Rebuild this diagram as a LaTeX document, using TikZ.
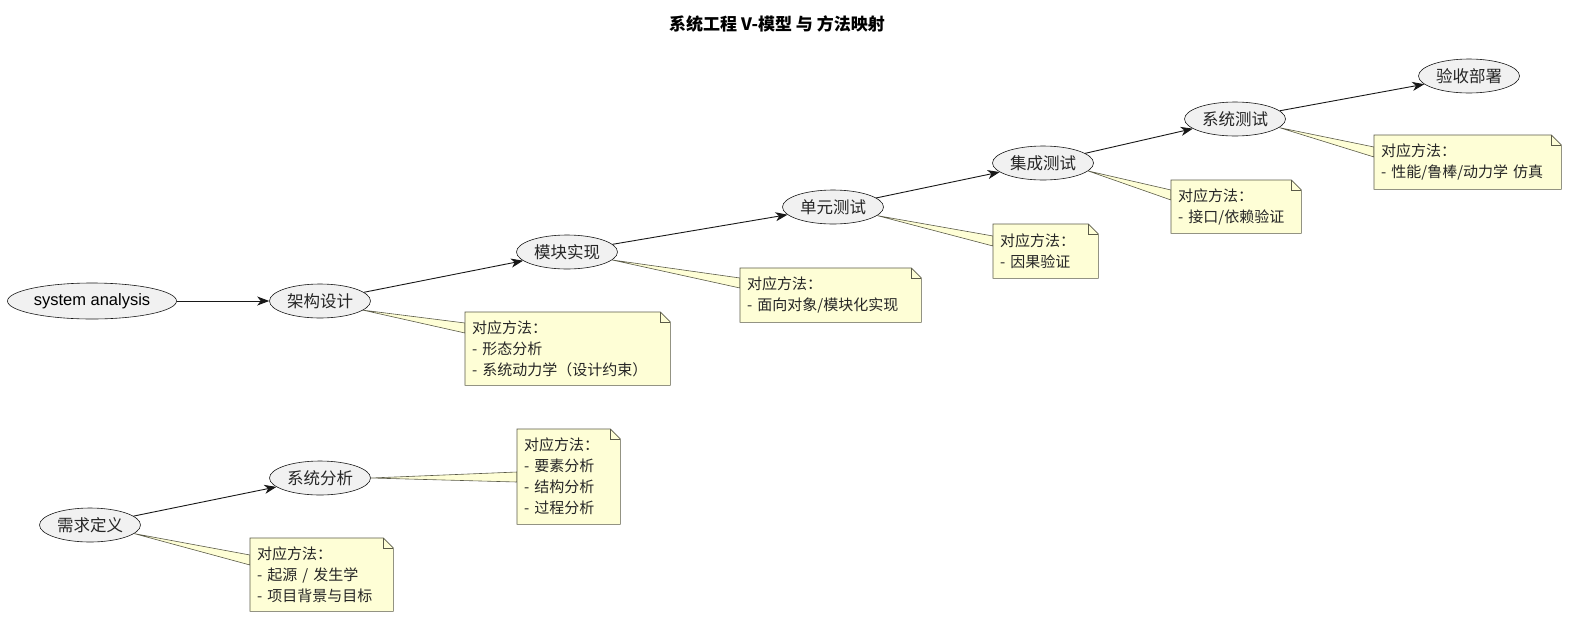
\documentclass[tikz,border=0pt]{standalone}
\usepackage{fontspec}
\setmainfont{Liberation Sans}
\newfontfamily\cjk{Noto Sans CJK SC}
\usetikzlibrary{shapes.geometric,arrows.meta,backgrounds}
\definecolor{nodefill}{HTML}{F1F1F1}
\definecolor{notefill}{HTML}{FEFED6}
\definecolor{lineclr}{HTML}{181818}
\definecolor{noteedge}{HTML}{5A5A48}
\newcommand\noteshape[1]{%
  \filldraw[noteshp] (#1.north west) -- ([xshift=-10pt]#1.north east) -- ([yshift=-10pt]#1.north east) -- (#1.south east) -- (#1.south west) -- cycle;
  \draw[noteshp,fill=none] ([xshift=-10pt]#1.north east) -- ([xshift=-10pt,yshift=-10pt]#1.north east) -- ([yshift=-10pt]#1.north east);}
\newcommand\notelink[4]{%
  \filldraw[noteshp] (#1) -- ([yshift=-#3pt]#2.north west) -- ([yshift=-#4pt]#2.north west) -- cycle;}
\begin{document}
\begin{tikzpicture}[x=1pt,y=-1pt,
  stage/.style={ellipse, draw=lineclr, line width=0.6pt, fill=nodefill, minimum width=101pt, minimum height=34pt, inner sep=0pt, font=\cjk\fontsize{16.5}{20}\selectfont, text=black!85},
  notetext/.style={inner xsep=7pt, inner ysep=0pt, align=left, anchor=north west, font=\cjk\fontsize{15}{21}\selectfont, text=black!85},
  noteshp/.style={fill=notefill, draw=noteedge, line width=0.6pt},
  flow/.style={-{Stealth[length=12pt,width=9pt,inset=3.5pt]}, line width=0.9pt, draw=lineclr}]
\useasboundingbox (0,0) rectangle (1571,619);

\node[font=\cjk\bfseries\fontsize{17}{20}\selectfont] (title) at (777,24) {系统工程 V-模型 与 方法映射};

\node[stage, minimum width=169pt, minimum height=36pt, font=\fontsize{16.5}{20}\selectfont, text=black] (sa) at (92,301) {system analysis};
\node[stage] (a2) at (320,301) {架构设计};
\node[stage] (a3) at (567,252) {模块实现};
\node[stage] (a4) at (833,207) {单元测试};
\node[stage] (a5) at (1043,163) {集成测试};
\node[stage] (a6) at (1235,119) {系统测试};
\node[stage] (a7) at (1469,76) {验收部署};
\node[stage] (b2) at (320,478) {系统分析};
\node[stage] (b1) at (90,525) {需求定义};

\node[notetext, text width=191pt, minimum height=73pt] (nA) at (465,312) {对应方法：\\- 形态分析\\- 系统动力学（设计约束）};
\node[notetext, text width=167pt, minimum height=54pt] (nB) at (740,268) {对应方法：\\- 面向对象/模块化实现};
\node[notetext, text width=91pt, minimum height=54pt] (nC) at (993,224) {对应方法：\\- 因果验证};
\node[notetext, text width=116pt, minimum height=53pt] (nD) at (1171,180) {对应方法：\\- 接口/依赖验证};
\node[notetext, text width=173pt, minimum height=54pt] (nE) at (1374,135) {对应方法：\\- 性能/鲁棒/动力学 仿真};
\node[notetext, text width=89pt, minimum height=95pt] (nF) at (517,429) {对应方法：\\- 要素分析\\- 结构分析\\- 过程分析};
\node[notetext, text width=129pt, minimum height=73pt] (nG) at (250,538) {对应方法：\\- 起源 / 发生学\\- 项目背景与目标};

\begin{scope}[on background layer]
  \notelink{a2.-12}{nA}{11}{21}
  \notelink{a3.-10}{nB}{10}{20}
  \notelink{a4.-11}{nC}{12}{22}
  \notelink{a5.-10}{nD}{10}{20}
  \notelink{a6.-11}{nE}{12}{22}
  \notelink{b2.0}{nF}{43}{53}
  \notelink{b1.-11}{nG}{17}{27}
  \noteshape{nA}
  \noteshape{nB}
  \noteshape{nC}
  \noteshape{nD}
  \noteshape{nE}
  \noteshape{nF}
  \noteshape{nG}
\end{scope}

\draw[flow] (sa) -- (a2);
\draw[flow] (a2) -- (a3);
\draw[flow] (a3) -- (a4);
\draw[flow] (a4) -- (a5);
\draw[flow] (a5) -- (a6);
\draw[flow] (a6) -- (a7);
\draw[flow] (b1) -- (b2);
\end{tikzpicture}
\end{document}
